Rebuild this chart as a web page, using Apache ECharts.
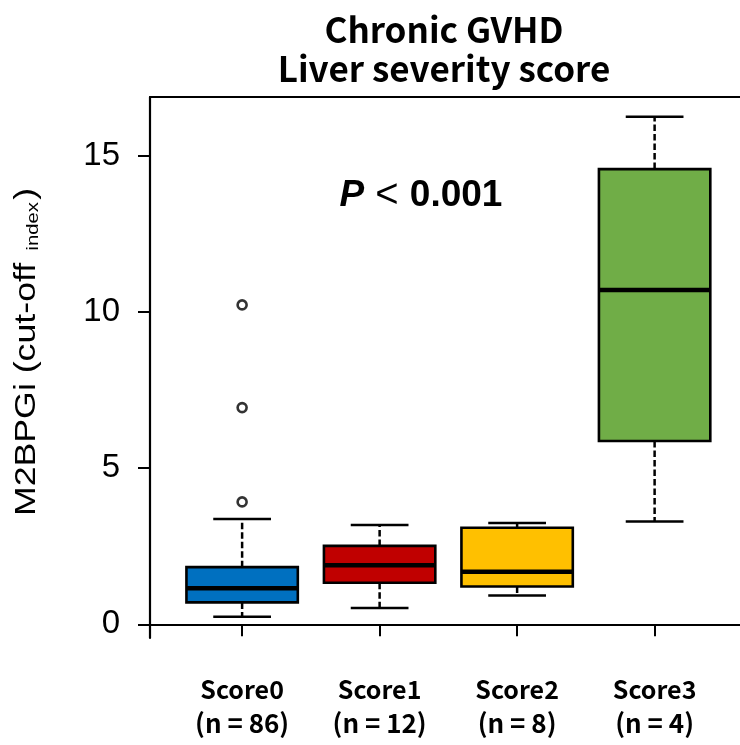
<!DOCTYPE html>
<html>
<head>
<meta charset="utf-8">
<script src="https://cdn.jsdelivr.net/npm/echarts@6/dist/echarts.min.js"></script>
<style>
  html, body { margin: 0; padding: 0; background: #fff; }
  #chart { width: 740px; height: 745px; }
</style>
</head>
<body>
<div id="chart"></div>
<script>
// Groups along the x axis
const categories = ['Score0', 'Score1', 'Score2', 'Score3'];
const groupSizes = [86, 12, 8, 4];
const positions = [1, 2, 3, 4];

// Five-number summaries: [lower whisker, Q1, median, Q3, upper whisker]
const score0Stats = [0.24, 0.70, 1.15, 1.83, 3.37];
const score1Stats = [0.52, 1.33, 1.89, 2.51, 3.18];
const score2Stats = [0.92, 1.21, 1.68, 3.09, 3.24];
const score3Stats = [3.29, 5.87, 10.71, 14.58, 16.26];

// Points beyond the whiskers
const score0Outliers = [3.92, 6.94, 10.23];

const boxColors = ['#0070C0', '#C00000', '#FFC000', '#70AD47'];
const yTicks = [0, 5, 10, 15];
const pValueText = '0.001';

const allStats = [score0Stats, score1Stats, score2Stats, score3Stats];
const boxData = allStats.map((s, i) => [positions[i], ...s, i]);
const outlierData = score0Outliers.map(v => [positions[0], v]);

const BOX_HALF = 0.405;
const CAP_HALF = 0.21;
const X_MIN = 0.33, X_MAX = 4.621;
const AXIS_LINE = { show: true, lineStyle: { color: '#000', width: 2.2 } };

function renderBox(params, api) {
  const x = api.value(0);
  const lo = api.value(1), q1 = api.value(2), med = api.value(3),
        q3 = api.value(4), hi = api.value(5);
  const color = boxColors[api.value(6)];
  const pt = (dx, v) => api.coord([x + dx, v]);
  const topL = pt(-BOX_HALF, q3), botR = pt(BOX_HALF, q1);
  const medL = pt(-BOX_HALF, med), medR = pt(BOX_HALF, med);
  const c = pt(0, 0)[0];
  const capLoL = pt(-CAP_HALF, lo), capLoR = pt(CAP_HALF, lo);
  const capHiL = pt(-CAP_HALF, hi), capHiR = pt(CAP_HALF, hi);
  const dash = { stroke: '#000', lineWidth: 2.5, lineDash: [6.5, 3] };
  const solid = { stroke: '#000', lineWidth: 2.5 };
  return {
    type: 'group',
    children: [
      { type: 'line', shape: { x1: c, y1: topL[1], x2: c, y2: capHiL[1] }, style: dash },
      { type: 'line', shape: { x1: c, y1: botR[1], x2: c, y2: capLoL[1] }, style: dash },
      { type: 'line', shape: { x1: capHiL[0], y1: capHiL[1], x2: capHiR[0], y2: capHiR[1] }, style: solid },
      { type: 'line', shape: { x1: capLoL[0], y1: capLoL[1], x2: capLoR[0], y2: capLoR[1] }, style: solid },
      { type: 'rect',
        shape: { x: topL[0], y: topL[1], width: botR[0] - topL[0], height: botR[1] - topL[1] },
        style: { fill: color, stroke: '#000', lineWidth: 2.6 } },
      { type: 'line', shape: { x1: medL[0], y1: medL[1], x2: medR[0], y2: medR[1] },
        style: { stroke: '#000', lineWidth: 4.5 } }
    ]
  };
}

const chart = echarts.init(document.getElementById('chart'), null, { renderer: 'canvas' });

chart.setOption({
  animation: false,
  backgroundColor: '#fff',
  grid: { show: false, left: 150, top: 97, right: 0, bottom: 107 },
  xAxis: [
    {
      type: 'value', min: X_MIN, max: X_MAX, position: 'bottom',
      splitLine: { show: false },
      axisLine: AXIS_LINE,
      axisTick: { show: true, customValues: positions, length: 12, lineStyle: { color: '#000', width: 2 } },
      axisLabel: {
        customValues: positions,
        margin: 34,
        formatter: v => {
          const i = Math.round(v) - 1;
          return '{a|' + categories[i] + '}\n{b|(n = ' + groupSizes[i] + ')}';
        },
        rich: {
          a: { fontFamily: 'Noto Sans CJK JP', fontWeight: 'bold', fontSize: 25, color: '#000', lineHeight: 34 },
          b: { fontFamily: 'Noto Sans CJK JP', fontWeight: 'bold', fontSize: 26, color: '#000', lineHeight: 34 }
        }
      }
    },
    {
      type: 'value', min: X_MIN, max: X_MAX, position: 'top',
      splitLine: { show: false },
      axisLine: AXIS_LINE,
      axisTick: { show: false },
      axisLabel: { show: false }
    }
  ],
  yAxis: {
    type: 'value', min: -0.44, max: 16.89,
    splitLine: { show: false },
    axisLine: AXIS_LINE,
    axisTick: { show: true, customValues: yTicks, length: 12, lineStyle: { color: '#000', width: 2 } },
    axisLabel: {
      customValues: yTicks, margin: 30,
      fontFamily: 'Liberation Sans', fontSize: 33, color: '#000'
    }
  },
  graphic: [
    {
      type: 'text',
      x: 444, y: 10,
      style: {
        text: 'Chronic GVHD\nLiver severity score',
        align: 'center',
        fontFamily: 'Noto Sans CJK JP', fontWeight: 'bold', fontSize: 35,
        lineHeight: 39, fill: '#000'
      }
    },
    {
      type: 'text',
      x: 421, y: 196,
      style: {
        align: 'center', verticalAlign: 'middle',
        text: '{p|P}{lt| < }{v|' + pValueText + '}',
        rich: {
          p: { fontFamily: 'Liberation Sans', fontStyle: 'italic', fontWeight: 'bold', fontSize: 37, fill: '#000' },
          lt: { fontFamily: 'Liberation Sans', fontSize: 40, fill: '#000' },
          v: { fontFamily: 'Liberation Sans', fontWeight: 'bold', fontSize: 37, fill: '#000' }
        }
      }
    },
    {
      type: 'text',
      x: 27, y: 352, rotation: Math.PI / 2, scaleX: 1.19,
      style: {
        align: 'center', verticalAlign: 'middle',
        text: '{m|M2BPGi (cut-off }{s|index}{m|)}',
        rich: {
          m: { fontFamily: 'Liberation Sans', fontSize: 30, fill: '#000', verticalAlign: 'bottom' },
          s: { fontFamily: 'Liberation Sans', fontSize: 17, fill: '#000', verticalAlign: 'bottom', padding: [0, 2, 0, 2] }
        }
      }
    }
  ],
  series: [
    {
      type: 'custom',
      renderItem: renderBox,
      data: boxData,
      encode: { x: 0, y: [1, 2, 3, 4, 5] },
      clip: false,
      z: 2
    },
    {
      type: 'scatter',
      data: outlierData,
      symbol: 'circle', symbolSize: 9,
      itemStyle: { color: '#fff', borderColor: '#000', borderWidth: 2.6 },
      z: 3
    }
  ]
});
</script>
</body>
</html>
